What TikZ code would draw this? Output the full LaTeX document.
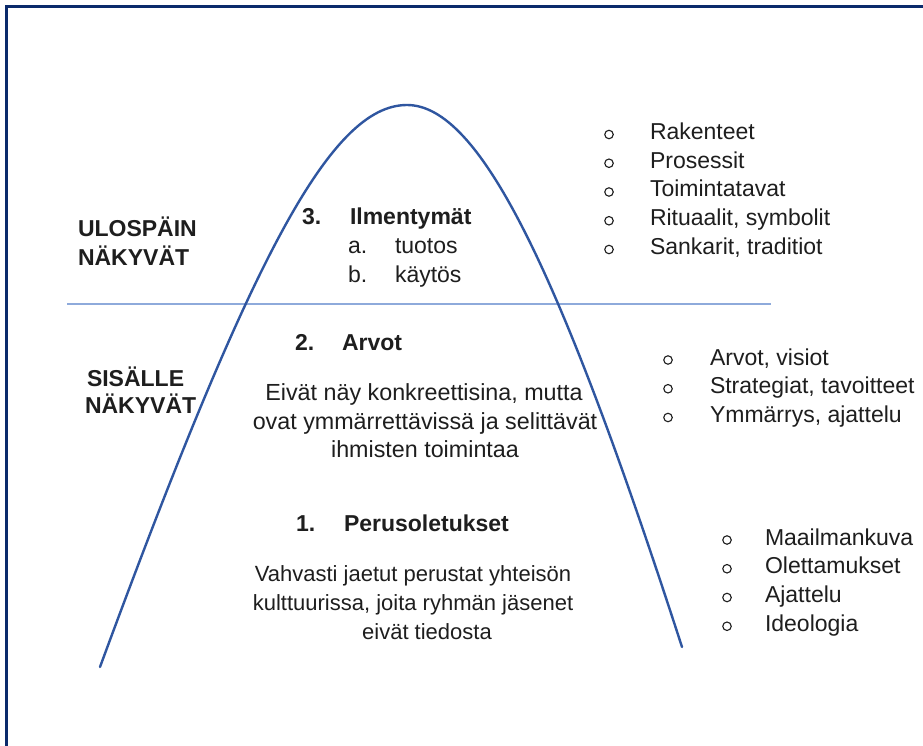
\documentclass[tikz,border=0pt]{standalone}
\usepackage{fontspec}
\setmainfont{Liberation Sans}
\definecolor{framec}{HTML}{0B2A6B}
\definecolor{curvec}{HTML}{2F56A0}
\definecolor{linec}{HTML}{8EAADB}
\definecolor{txt}{HTML}{1E1E1E}
\tikzset{
  lbl/.style={anchor=base west, inner sep=0pt, outer sep=0pt, text=txt, font=\fontsize{23}{27}\selectfont},
  hdr/.style={lbl, font=\fontsize{23}{27}\selectfont\bfseries},
  ctr/.style={anchor=base, inner sep=0pt, outer sep=0pt, text=txt, font=\fontsize{23.3}{27}\selectfont},
  ctrs/.style={ctr, font=\fontsize{22}{26}\selectfont},
  bul/.style={circle, draw=txt, line width=1.1pt, inner sep=0pt, minimum size=8.5pt},
}
\begin{document}
\begin{tikzpicture}[x=1pt,y=-1pt]
\useasboundingbox (0,0) rectangle (923,746);
\fill[white] (0,0) rectangle (923,746);
% frame
\coordinate (fb) at (6.7,746);
\coordinate (fc) at (6.7,6.7);
\coordinate (fr) at (923,6.7);
\draw[framec, line width=3.3pt] (fb) -- (fc) -- (fr);
% divider
\coordinate (hl) at (67,304);
\coordinate (hr) at (771,304);
\draw[linec, line width=1.5pt] (hl) -- (hr);
% curve
\coordinate (cl) at (100,667);
\coordinate (ct) at (407,105);
\coordinate (cr) at (682,647);
\draw[curvec, line width=2.4pt, line cap=round] (cl) .. controls (250,260) and (330,105) .. (ct) .. controls (480,105) and (560,270) .. (cr);

% left labels
\node[hdr] (ul1) at (78,236.5) {ULOSPÄIN};
\node[hdr] (ul2) at (78,265) {NÄKYVÄT};
\node[hdr] (si1) at (87,386.5) {SISÄLLE};
\node[hdr] (si2) at (85,413) {NÄKYVÄT};

% level 3
\node[hdr] (n3) at (302,224) {3.};
\node[hdr] (t3) at (350,224) {Ilmentymät};
\node[lbl] (na) at (348,253) {a.};
\node[lbl] (ta) at (395,253) {tuotos};
\node[lbl] (nb) at (348,282) {b.};
\node[lbl] (tb) at (395,282) {käytös};

% level 2
\node[hdr] (n2) at (295,350.5) {2.};
\node[hdr] (t2) at (342,350.5) {Arvot};
\node[ctr] (p21) at (424,400) {Eivät näy konkreettisina, mutta};
\node[ctr] (p22) at (425,429) {ovat ymmärrettävissä ja selittävät};
\node[ctr] (p23) at (425,457.5) {ihmisten toimintaa};

% level 1
\node[hdr] (n1) at (296,531) {1.};
\node[hdr] (t1) at (344,531) {Perusoletukset};
\node[ctrs] (p11) at (413,581) {Vahvasti jaetut perustat yhteisön};
\node[ctrs] (p12) at (413,610) {kulttuurissa, joita ryhmän jäsenet};
\node[ctrs] (p13) at (427,639) {eivät tiedosta};

% list 1
\foreach \i/\t in {0/Rakenteet,1/Prosessit,2/Toimintatavat,3/{Rituaalit, symbolit},4/{Sankarit, traditiot}}{
  \node[bul] (b1\i) at (609,{134.5+28.75*\i}) {};
  \node[lbl] (l1\i) at (650,{139.3+28.75*\i}) {\t};
}
% list 2
\foreach \i/\t in {0/{Arvot, visiot},1/{Strategiat, tavoitteet},2/{Ymmärrys, ajattelu}}{
  \node[bul] (b2\i) at (668,{360+28.75*\i}) {};
  \node[lbl] (l2\i) at (710,{365+28.75*\i}) {\t};
}
% list 3
\foreach \i/\t in {0/Maailmankuva,1/Olettamukset,2/Ajattelu,3/Ideologia}{
  \node[bul] (b3\i) at (727,{540+28.75*\i}) {};
  \node[lbl] (l3\i) at (765,{545+28.75*\i}) {\t};
}
\end{tikzpicture}
\end{document}
